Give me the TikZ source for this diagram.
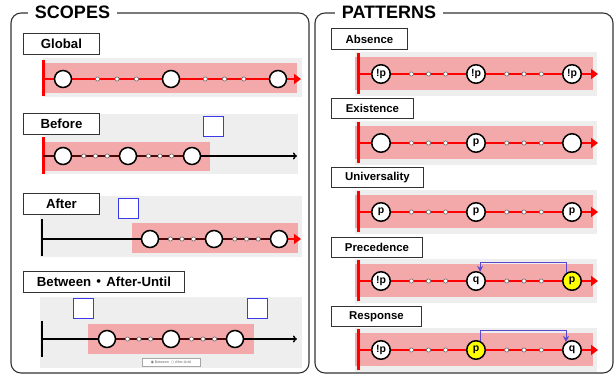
\documentclass[tikz,border=0pt]{standalone}
\usepackage{fontspec}
\setmainfont{Liberation Sans}
\newfontfamily\cjkfont{Noto Sans CJK JP}
\newfontfamily\symfont{DejaVu Sans}
\usetikzlibrary{arrows.meta,calc,backgrounds}

\definecolor{pinkband}{HTML}{F3A9A9}
\definecolor{graybg}{HTML}{EEEEEE}
\definecolor{tlred}{HTML}{FF0000}
\definecolor{darkline}{HTML}{4A0808}
\definecolor{sqblue}{HTML}{3A3AE8}
\definecolor{framegray}{HTML}{333333}
\definecolor{arrowblue}{HTML}{5A48CC}
\definecolor{hiyellow}{HTML}{FFFF00}

\newcommand\scopelbl{\fontsize{13.2}{15}\selectfont\bfseries}
\newcommand\patlbl{\fontsize{11.4}{13}\selectfont\bfseries}

\tikzset{
  panel/.style={draw=framegray, line width=1.1pt, rounded corners=10pt},
  paneltitle/.style={font=\fontsize{18}{20}\selectfont\bfseries, fill=white, inner xsep=7pt, inner ysep=2pt, anchor=base},
  labelbox/.style={draw=framegray, line width=0.9pt, fill=white, inner sep=0pt, minimum height=21pt, anchor=north west, align=center},
  scirc/.style={circle, draw=black, line width=1.5pt, fill=white, minimum size=17pt, inner sep=0pt},
  pcirc/.style={circle, draw=black, line width=1.5pt, fill=white, minimum size=18.5pt, inner sep=0pt, font=\fontsize{10.5}{12}\selectfont\bfseries},
  hi/.style={fill=hiyellow},
  tdot/.style={circle, draw=gray!80!black, line width=0.6pt, fill=white, minimum size=4.2pt, inner sep=0pt},
  redline/.style={draw=tlred, line width=1.5pt},
  darkseg/.style={draw=darkline, line width=1.4pt},
  blackseg/.style={draw=black, line width=1.4pt},
  redtip/.style={-{Triangle[length=7pt,width=10pt]}},
  blacktip/.style={-{To[length=4pt,width=7pt]}},
  redstart/.style={draw=tlred, line width=3pt},
  blackstart/.style={draw=black, line width=1.5pt},
  bsq/.style={draw=sqblue, line width=1.3pt, fill=white, minimum size=20pt, inner sep=0pt, anchor=north west},
  bluelink/.style={draw=arrowblue, line width=0.9pt, -{Stealth[length=6pt,width=6pt]}},
}

\newcommand\threedots[3]{% prefix, from, to
  \node[tdot] (#1a) at ($(#2)!0.32!(#3)$) {};
  \node[tdot] (#1b) at ($(#2)!0.50!(#3)$) {};
  \node[tdot] (#1c) at ($(#2)!0.68!(#3)$) {};
}

\newcommand\patbar[8]{% prefix, y, contents x3, styles x3
  \node[pcirc,#6] (#1c1) at (381,#2) {#3};
  \node[pcirc,#7] (#1c2) at (476,#2) {#4};
  \node[pcirc,#8] (#1c3) at (572,#2) {#5};
  \coordinate (#1s) at (358,#2);
  \coordinate (#1e) at (598,#2);
  \threedots{#1da}{#1c1}{#1c2}
  \threedots{#1db}{#1c2}{#1c3}
  \begin{pgfonlayer}{background}
    \fill[graybg] (355,#2-22) rectangle (597,#2+22);
    \fill[pinkband] (355,#2-17) rectangle (593,#2+16);
    \draw[redstart] (358,#2-21) -- (358,#2+20);
    \draw[redline] (#1s) -- (#1c1) (#1c1) -- (#1c2) (#1c2) -- (#1c3);
    \draw[redline,redtip] (#1c3) -- (#1e);
  \end{pgfonlayer}
}

\begin{document}
\begin{tikzpicture}[x=1pt,y=-1pt]
\useasboundingbox (0,0) rectangle (615,377);

% ---------- panels ----------
\draw[panel] (11,13) rectangle (309,373);
\draw[panel] (315,13) rectangle (613,373);
\node[paneltitle] (tscopes) at (72.5,19) {SCOPES};
\node[paneltitle] (tpatterns) at (389,19) {PATTERNS};

% ---------- SCOPES: Global ----------
\node[labelbox, minimum width=76pt, font=\scopelbl] (lglobal) at (23,33) {Global};
\node[scirc] (g1) at (63,79) {};
\node[scirc] (g2) at (171,79) {};
\node[scirc] (g3) at (278,79) {};
\coordinate (gs) at (43,79);
\coordinate (ge) at (301,79);
\threedots{gda}{g1}{g2}
\threedots{gdb}{g2}{g3}
\begin{pgfonlayer}{background}
  \fill[graybg] (43,58) rectangle (302,97);
  \fill[pinkband] (43,63) rectangle (297,93);
  \draw[redstart] (43,60) -- (43,96);
  \draw[redline] (gs) -- (g1) (g1) -- (g2) (g2) -- (g3);
  \draw[redline,redtip] (g3) -- (ge);
\end{pgfonlayer}

% ---------- SCOPES: Before ----------
\node[labelbox, minimum width=76pt, font=\scopelbl] (lbefore) at (23,113) {Before};
\node[bsq] (bsqa) at (203,116) {};
\node[scirc] (b1) at (63,156) {};
\node[scirc] (b2) at (128,156) {};
\node[scirc] (b3) at (192,156) {};
\coordinate (bs) at (43,156);
\coordinate (be) at (297,156);
\threedots{bda}{b1}{b2}
\threedots{bdb}{b2}{b3}
\begin{pgfonlayer}{background}
  \fill[graybg] (43,114) rectangle (298,174);
  \fill[pinkband] (43,142) rectangle (210,171);
  \draw[redstart] (43,137) -- (43,174);
  \draw[darkseg] (bs) -- (b1) (b1) -- (b2) (b2) -- (b3);
  \draw[blackseg,blacktip] (b3) -- (be);
\end{pgfonlayer}

% ---------- SCOPES: After ----------
\node[labelbox, minimum width=76pt, font=\scopelbl] (lafter) at (23,193) {After};
\node[bsq] (sqafter) at (117.5,197.5) {};
\node[scirc] (a1) at (150,239) {};
\node[scirc] (a2) at (214,239) {};
\node[scirc] (a3) at (279,239) {};
\coordinate (afs) at (42,239);
\coordinate (afe) at (301,239);
\threedots{ada}{a1}{a2}
\threedots{adb}{a2}{a3}
\begin{pgfonlayer}{background}
  \fill[graybg] (40,196) rectangle (302,257);
  \fill[pinkband] (132,223) rectangle (298,253);
  \draw[blackstart] (42,219) -- (42,256);
  \draw[blackseg] (afs) -- (a1);
  \draw[darkseg] (a1) -- (a2) (a2) -- (a3);
  \draw[redline,redtip] (a3) -- (afe);
\end{pgfonlayer}

% ---------- SCOPES: Between / After-Until ----------
\node[labelbox, minimum width=161pt, font=\scopelbl] (lbetween) at (23,271) {Between\hspace{1pt}{\cjkfont ・}\hspace{1pt}After-Until};
\node[bsq] (bsqc) at (73,298) {};
\node[bsq] (bsqd) at (247,298) {};
\node[scirc] (w1) at (107,339) {};
\node[scirc] (w2) at (171,339) {};
\node[scirc] (w3) at (235,339) {};
\coordinate (ws) at (42,339);
\coordinate (we) at (297,339);
\threedots{wda}{w1}{w2}
\threedots{wdb}{w2}{w3}
\node[draw=gray!70, line width=0.4pt, fill=white, minimum width=58pt, minimum height=8pt, inner sep=0pt, text=gray!80!black,
      font=\fontsize{3.6}{4}\selectfont] (radio) at (171,362) {{\symfont ◉} Between\ \ {\symfont ○} After-Until};
\begin{pgfonlayer}{background}
  \fill[graybg] (40,297) rectangle (302,368);
  \fill[pinkband] (88,324) rectangle (254,354);
  \draw[blackstart] (42,321) -- (42,357);
  \draw[blackseg] (ws) -- (w1);
  \draw[darkseg] (w1) -- (w2) (w2) -- (w3);
  \draw[blackseg,blacktip] (w3) -- (we);
\end{pgfonlayer}

% ---------- PATTERNS ----------
\node[labelbox, minimum width=76pt, font=\patlbl] (labs) at (331,28) {Absence};
\patbar{ab}{74}{!p}{!p}{!p}{}{}{}

\node[labelbox, minimum width=82pt, minimum height=20pt, font=\patlbl] (lexi) at (331,98) {Existence};
\patbar{ex}{143}{}{p}{}{}{}{}

\node[labelbox, minimum width=92pt, minimum height=20pt, font=\patlbl] (luni) at (331,167) {Universality};
\patbar{un}{212}{p}{p}{p}{}{}{}

\node[labelbox, minimum width=91pt, minimum height=20pt, font=\patlbl] (lpre) at (331,237) {Precedence};
\patbar{pr}{281}{!p}{q}{p}{}{}{hi}
\draw[bluelink] (prc3.127) -- ++(0,-11) -| (prc2.66);

\node[labelbox, minimum width=90pt, minimum height=20pt, font=\patlbl] (lres) at (331,306) {Response};
\patbar{re}{350}{!p}{p}{q}{}{hi}{}
\draw[bluelink] (rec2.66) -- ++(0,-10) -| (rec3.127);

\end{tikzpicture}
\end{document}
